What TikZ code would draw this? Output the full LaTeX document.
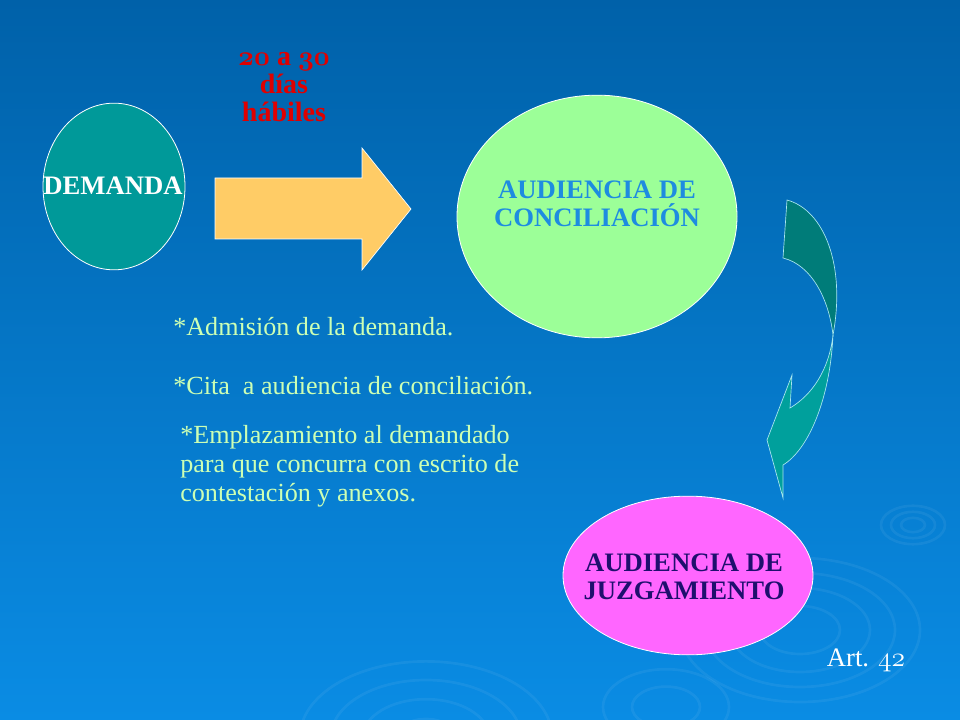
\documentclass[tikz,border=0pt]{standalone}
\usepackage{fontspec}
\setmainfont{Liberation Serif}
\usetikzlibrary{shapes.geometric}

\definecolor{fondoArriba}{HTML}{0061A9}
\definecolor{fondoMedio}{HTML}{0068B4}
\definecolor{fondoAbajo}{HTML}{0A8CE4}
\definecolor{tealDemanda}{HTML}{009999}
\definecolor{verdeConc}{HTML}{9CFF98}
\definecolor{azulConc}{HTML}{1E8CE0}
\definecolor{rosaJuzg}{HTML}{FF66FF}
\definecolor{azulJuzg}{HTML}{1F0F6E}
\definecolor{amarilloFlecha}{HTML}{FFCC66}
\definecolor{rojoPlazo}{HTML}{E00000}
\definecolor{notaVerde}{HTML}{CCFFB4}
\definecolor{tealOscuro}{HTML}{007C79}
\definecolor{tealClaro}{HTML}{00A09C}
\definecolor{bordeFlecha}{HTML}{A8E6F0}

\newcommand{\cifrasB}[1]{{\usefont{OML}{cmm}{b}{it}#1}}
\newcommand{\cifras}[1]{{\usefont{OML}{cmm}{m}{it}#1}}

\begin{document}
\begin{tikzpicture}[x=0.75pt,y=-0.75pt,
  etapa/.style={ellipse,draw=white,line width=0.6pt,inner sep=0pt},
  titulo/.style={font=\bfseries\fontsize{20}{21}\selectfont,align=center,inner sep=0pt},
  nota/.style={text=notaVerde,font=\fontsize{19.6}{21.75}\selectfont,inner sep=0pt,align=left},
  onda/.style={draw=white,opacity=0.06,line width=2pt}]

\shade[top color=fondoArriba,middle color=fondoMedio,bottom color=fondoAbajo] (0,0) rectangle (960,720);
\useasboundingbox (0,0) rectangle (960,720);

\foreach \r in {12,22,32}{
  \draw[onda] (913,525) ellipse ({\r} and {0.6*\r});
  }
\foreach \r in {40,70,95,120}{
  \draw[onda] (800,630) ellipse ({\r} and {0.6*\r});
  }
\foreach \r in {30,63,95,126}{
  \draw[onda] (426,737) ellipse ({\r} and {0.6*\r});
  }
\foreach \r in {34,63}{
  \draw[onda] (666,707) ellipse ({\r} and {0.6*\r});
  }

\node[etapa,fill=tealDemanda,minimum width=106.5pt,minimum height=125pt] (demanda) at (114,186.5) {};
\node[titulo,text=white] (demandaTxt) at (113,186) {DEMANDA};

\node[titulo,text=rojoPlazo,font=\bfseries\fontsize{21}{21}\selectfont] (plazo) at (284,87) {\cifrasB{20} a \cifrasB{30}\\días\\hábiles};

\draw[fill=amarilloFlecha,draw=white,line width=0.5pt] (215,178) -- (362,178) -- (362,148) -- (411,209) -- (362,270) -- (362,239) -- (215,239) -- cycle;

\node[etapa,fill=verdeConc,minimum width=210pt,minimum height=182pt] (conciliacion) at (597,216.5) {};
\node[titulo,text=azulConc] (conciliacionTxt) at (597,204) {AUDIENCIA DE\\CONCILIACIÓN};

\node[nota,anchor=base west] (admision) at (173,335) {*Admisión de la demanda.};
\node[nota,anchor=base west] (cita) at (173,394) {*Cita\ \ a audiencia de conciliación.};
\node[nota,anchor=north west] (emplazamiento) at (180,425) {*Emplazamiento al demandado\\para que concurra con escrito de\\contestación y anexos.};

\draw[fill=tealOscuro,draw=bordeFlecha,line width=0.5pt] (787,200) .. controls (824,210) and (846,265) .. (833,335) .. controls (829,300) and (812,265) .. (783,258) -- cycle;
\draw[fill=tealClaro,draw=bordeFlecha,line width=0.5pt] (833,335) .. controls (829,370) and (812,395) .. (790,408) -- (792,375) -- (767,440) -- (783,498) -- (783,465) .. controls (808,450) and (830,400) .. (833,335) -- cycle;

\node[etapa,fill=rosaJuzg,minimum width=187.5pt,minimum height=119pt] (juzgamiento) at (688,575.5) {};
\node[titulo,text=azulJuzg] (juzgamientoTxt) at (684,577) {AUDIENCIA DE\\JUZGAMIENTO};

\node[text=white,font=\fontsize{20}{21}\selectfont,inner sep=0pt] (articulo) at (866,660) {Art. {\fontsize{22}{22}\selectfont\cifras{42}}};
\end{tikzpicture}
\end{document}
